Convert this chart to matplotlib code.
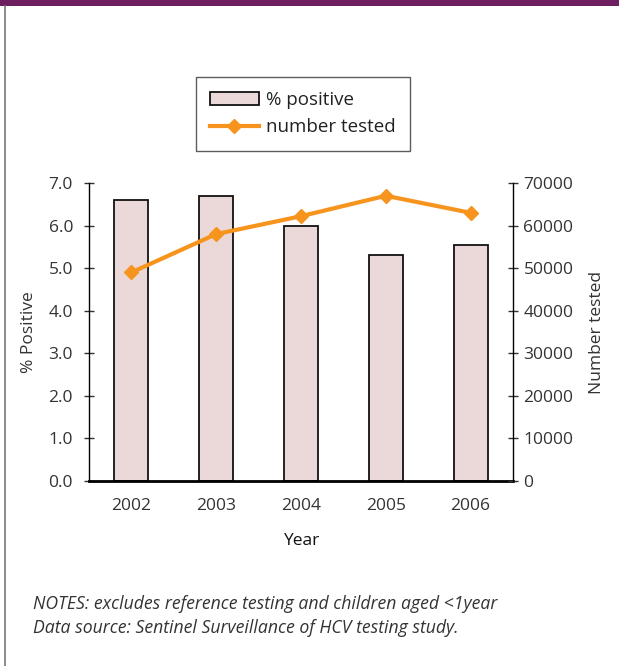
import numpy as np
import matplotlib
matplotlib.use('Agg')
import matplotlib.pyplot as plt
from matplotlib.lines import Line2D
from matplotlib.patches import Rectangle

plt.rcParams['font.family'] = ['Open Sans', 'DejaVu Sans']

years = ['2002', '2003', '2004', '2005', '2006']
pct_positive = [6.6, 6.7, 6.0, 5.3, 5.55]
number_tested = [49000, 58000, 62200, 67000, 63000]

bar_color = '#ebd9d9'
line_color = '#f7941d'
text_color = '#333333'

fig = plt.figure(figsize=(6.19, 6.66), dpi=100)

# purple band on top and grey border on the left
fig.add_artist(Rectangle((0, 1 - 6 / 666), 1, 6 / 666, transform=fig.transFigure,
                         color='#6e1f5f', lw=0))
fig.add_artist(Line2D([4.5 / 619, 4.5 / 619], [0, 1 - 6 / 666], transform=fig.transFigure,
                      color='#777777', lw=1.2))

ax = fig.add_axes([89 / 619, 1 - 481 / 666, 424 / 619, 298 / 666])
x = np.arange(len(years))
bars = ax.bar(x, pct_positive, width=0.4, color=bar_color, edgecolor='#111111',
              linewidth=1.3, label='% positive', zorder=2)
ax.set_xlim(-0.5, 4.5)
ax.set_ylim(0, 7)
ax.set_yticks(np.arange(0, 7.1, 1.0))
ax.set_yticklabels(['{:.1f}'.format(v) for v in np.arange(0, 7.1, 1.0)])
ax.set_xticks(x)
ax.set_xticklabels(years)
ax.tick_params(axis='x', length=0, pad=12, labelsize=12.5, colors=text_color)
ax.tick_params(axis='y', direction='inout', length=7, width=1, labelsize=12.5,
               colors=text_color, pad=8)
ax.spines['top'].set_visible(False)
ax.spines['right'].set_visible(False)
ax.spines['bottom'].set_linewidth(2)
ax.spines['left'].set_linewidth(1)
ax.set_ylabel('% Positive', fontsize=12.5, color=text_color, labelpad=8)
ax.set_xlabel('Year', fontsize=12.5, color='#111111', labelpad=14)

ax1 = ax.twinx()
line, = ax1.plot(x, number_tested, color=line_color, lw=3, marker='D', markersize=7,
                 label='number tested', zorder=3)
ax1.set_ylim(0, 70000)
ax1.set_yticks(np.arange(0, 70001, 10000))
ax1.tick_params(axis='y', direction='inout', length=7, width=1, labelsize=12.5,
                colors=text_color, pad=4)
ax1.spines['top'].set_visible(False)
ax1.spines['left'].set_visible(False)
ax1.spines['bottom'].set_visible(False)
ax1.spines['right'].set_linewidth(1)
ax1.set_ylabel('Number tested', fontsize=12.5, color=text_color, labelpad=11)

leg = fig.legend([bars, line], ['% positive', 'number tested'],
                 loc='upper left', bbox_to_anchor=(196 / 619, 1 - 77 / 666),
                 borderaxespad=0, fontsize=13.5, frameon=True, fancybox=False,
                 edgecolor='#333333', handlelength=2.6, handletextpad=0.4,
                 borderpad=0.75, labelspacing=0.5)
leg.get_frame().set_linewidth(1)
for t in leg.get_texts():
    t.set_color('#222222')

fig.text(33 / 619, 1 - 604 / 666, 'NOTES: excludes reference testing and children aged <1year',
         fontsize=12.7, style='italic', color=text_color, va='center')
fig.text(33 / 619, 1 - 628 / 666, 'Data source: Sentinel Surveillance of HCV testing study.',
         fontsize=12.7, style='italic', color=text_color, va='center')

fig.savefig('out.png', dpi=100)
